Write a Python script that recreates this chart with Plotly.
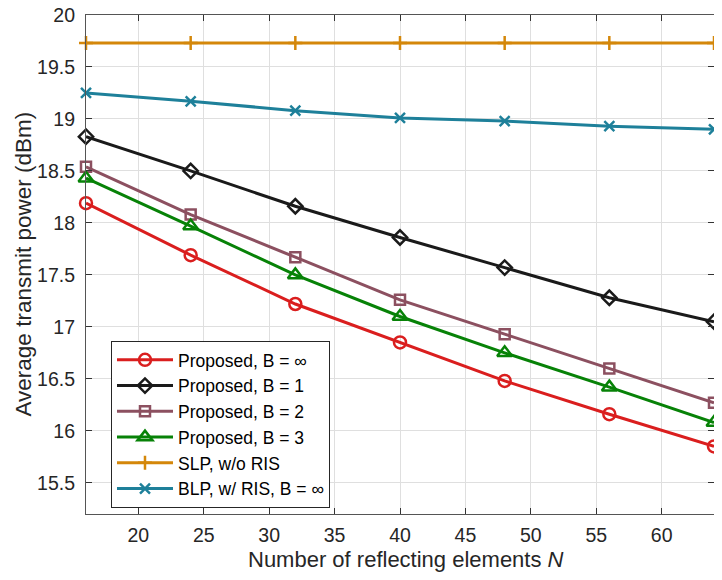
import plotly.graph_objects as go

N = [16, 24, 32, 40, 48, 56, 64]
prop_inf = [18.19, 17.69, 17.22, 16.85, 16.48, 16.16, 15.85]
prop_b1 = [18.83, 18.50, 18.16, 17.86, 17.57, 17.28, 17.05]
prop_b2 = [18.54, 18.08, 17.67, 17.26, 16.93, 16.60, 16.27]
prop_b3 = [18.43, 17.97, 17.50, 17.10, 16.75, 16.42, 16.08]
slp_noris = [19.73, 19.73, 19.73, 19.73, 19.73, 19.73, 19.73]
blp_ris = [19.25, 19.17, 19.08, 19.01, 18.98, 18.93, 18.90]

x_ticks = [20, 25, 30, 35, 40, 45, 50, 55, 60]
y_ticks = [15.5, 16, 16.5, 17, 17.5, 18, 18.5, 19, 19.5, 20]
y_ticklabels = ["15.5", "16", "16.5", "17", "17.5", "18", "18.5", "19", "19.5", "20"]

series = [
    ("Proposed, B = ∞", prop_inf, "#DA1E1E", "circle-open", 12),
    ("Proposed, B = 1", prop_b1, "#1A1A1A", "diamond-open", 11),
    ("Proposed, B = 2", prop_b2, "#8C5060", "square-open", 10),
    ("Proposed, B = 3", prop_b3, "#078207", "triangle-up-open", 13),
    ("SLP, w/o RIS", slp_noris, "#D4870A", "cross-thin-open", 10),
    ("BLP, w/ RIS, B = ∞", blp_ris, "#1E809A", "x-thin-open", 10),
]

fig = go.Figure()
for name, ys, col, sym, sz in series:
    fig.add_trace(go.Scatter(
        x=N, y=ys, name=name, mode="lines+markers",
        line=dict(color=col, width=3),
        marker=dict(symbol=sym, size=sz, color=col, line=dict(color=col, width=2.5)),
        cliponaxis=False,
    ))

font_family = "Liberation Sans, Arial, Helvetica, sans-serif"
fig.update_layout(
    width=706, height=564,
    margin=dict(l=78, r=0, t=7, b=58),
    plot_bgcolor="white", paper_bgcolor="white",
    font=dict(family=font_family, size=19.5, color="#262626"),
    showlegend=True,
    legend=dict(
        x=0.0398, y=0.3467, xanchor="left", yanchor="top",
        bgcolor="white", bordercolor="#262626", borderwidth=1,
        font=dict(size=17.5, color="#000000"),
        itemwidth=56, tracegroupgap=0,
    ),
    xaxis=dict(
        range=[16, 64], tickvals=x_ticks, ticktext=[str(v) for v in x_ticks],
        showgrid=True, gridcolor="#DFDFDF", gridwidth=1,
        showline=True, linecolor="#555555", linewidth=1.2, mirror="ticks",
        ticks="inside", ticklen=6, tickcolor="#333333",
        zeroline=False, automargin=False, ticklabelstandoff=3,
        ticklabeloverflow="allow",
    ),
    yaxis=dict(
        range=[15.2, 20], tickvals=y_ticks, ticktext=y_ticklabels,
        showgrid=True, gridcolor="#DFDFDF", gridwidth=1,
        showline=True, linecolor="#555555", linewidth=1.2, mirror="ticks",
        ticks="inside", ticklen=6, tickcolor="#333333",
        zeroline=False, automargin=False, ticklabelstandoff=6,
        ticklabeloverflow="allow",
    ),
    annotations=[
        dict(text="Number of reflecting elements <i>N</i>", xref="paper", yref="paper",
             x=0.510, y=-0.0902, xanchor="center", yanchor="middle", showarrow=False,
             font=dict(size=22, color="#262626")),
        dict(text="Average transmit power (dBm)", xref="paper", yref="paper",
             x=-0.1003, y=0.5, xanchor="center", yanchor="middle", showarrow=False,
             textangle=-90, font=dict(size=22.5, color="#262626")),
    ],
)

fig.write_html("out.html")
